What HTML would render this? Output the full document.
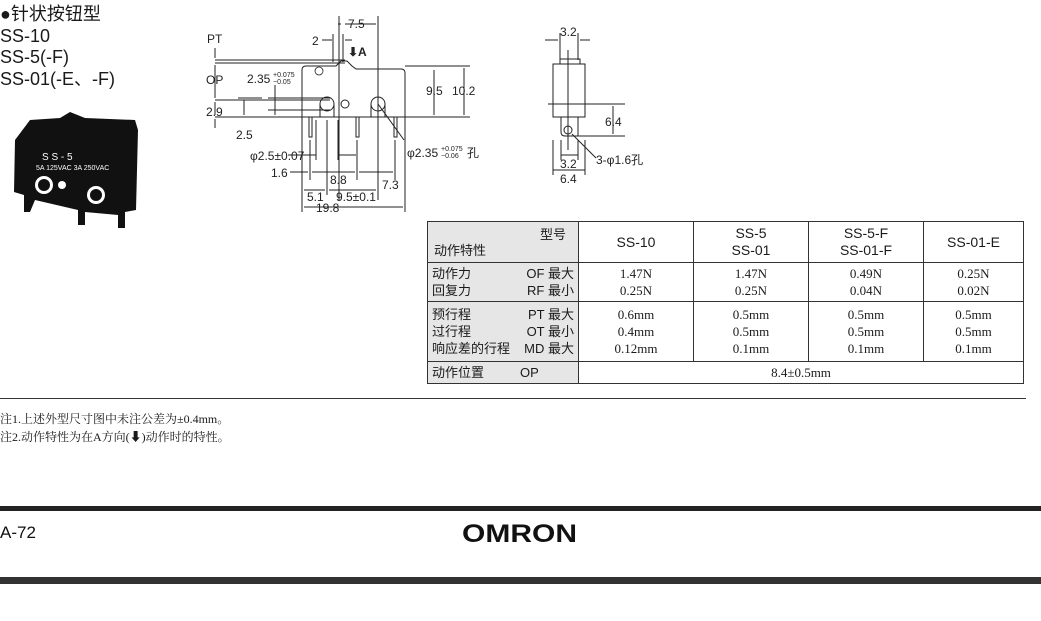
<!DOCTYPE html>
<html><head><meta charset="utf-8"><style>
body{margin:0;background:#fff;width:1041px;height:621px;overflow:hidden;position:relative;font-family:"Liberation Sans","Noto Sans CJK SC",sans-serif;color:#1a1a1a}
.a{position:absolute;white-space:nowrap}
table{position:absolute;left:427px;top:221px;border-collapse:collapse;font-size:13px}
td{border:1px solid #333;padding:0;text-align:center;font-family:"Liberation Serif","Noto Serif CJK SC",serif;line-height:17px}
td.h{font-family:"Liberation Sans","Noto Sans CJK SC",sans-serif;font-size:14px}
td.f{background:#e6e6e6;text-align:left;font-family:"Liberation Sans","Noto Sans CJK SC",sans-serif;padding:0 4px;position:relative}
</style></head><body>
<div class="a" style="left:0;top:4px;font-size:18px;line-height:21.5px">●针状按钮型<br>SS-10<br>SS-5(-F)<br>SS-01(-E、-F)</div>
<svg class="a" style="left:0;top:0" width="1041" height="621" font-family="Liberation Sans,sans-serif" font-size="12" fill="#222">
<g stroke="#222" stroke-width="1" fill="none">
<path d="M302,117 L302,70 Q302,66 306,66 L336,66 L341,61 L347,61 L352,66 L356,69 L401,69 Q405,69 405,73 L405,117 Z"/>
<circle cx="327" cy="104" r="7"/><circle cx="345" cy="104" r="4"/><circle cx="378" cy="104" r="7"/>
<path d="M320,104 V117 M334,104 V117 M371,104 V117 M385,104 V117"/>
<rect x="309" y="117" width="3" height="20"/><rect x="356" y="117" width="3" height="20"/><rect x="394" y="117" width="3" height="20"/>
<path d="M339,16 V200 M378,16 V200 M302,117 V212 M405,117 V212 M333,34 V62 M343,34 V62"/>
<path d="M215,60 H345 M215,63 H345 M215,100 H330 M215,117 H302 M268,98 H330 M268,110 H330 M238,98 H262 M238,117 H262"/>
<path d="M405,66 H470 M405,117 H470"/>
<path d="M434,70 V115 M464,68 V115 M215,48 V58 M215,65 V98 M215,102 V115 M215,119 V128 M244,100 V115 M275,85 V115"/>
<path d="M316,120 V160 M338,120 V160 M327,120 V195 M310,140 V180 M357,140 V180 M395,140 V180 M288,155 H316 M338,155 H356"/>
<path d="M290,172 H308 M312,172 H355 M359,172 H393 M304,190 H325 M329,190 H376 M304,207 H403 M345,24 H376 M341,24 H338 M322,40 H332 M345,40 H352"/>
<path d="M378,104 L404,140"/>
<rect x="553" y="64" width="32" height="53"/><rect x="560" y="59" width="20" height="5"/>
<path d="M561,117 V132 Q561,136 565,136 H578 V117"/><circle cx="568" cy="130" r="4"/>
<path d="M568,50 V150 M548,104 H625 M578,136 H625 M560,33 V60 M578,33 V60 M553,140 V175 M585,140 V175 M561,140 V160 M578,140 V160 M545,40 H558 M580,40 H590 M613,106 V134 M553,170 H585 M561,155 H578 M572,134 L596,158"/>
</g>
<g font-size="12">
<text x="207" y="43">PT</text><text x="206" y="84">OP</text><text x="206" y="116">2.9</text>
<text x="236" y="139">2.5</text><text x="247" y="83">2.35</text><text x="273" y="77" font-size="7">+0.075</text><text x="273" y="84" font-size="7">−0.05</text>
<text x="312" y="45">2</text><text x="348" y="28">7.5</text><text x="348" y="56" font-weight="bold">⬇A</text>
<text x="426" y="95">9.5</text><text x="452" y="95">10.2</text>
<text x="250" y="160">φ2.5±0.07</text><text x="407" y="157">φ2.35</text><text x="441" y="151" font-size="7">+0.075</text><text x="441" y="158" font-size="7">−0.06</text><text x="467" y="157">孔</text>
<text x="271" y="177">1.6</text><text x="330" y="184">8.8</text><text x="382" y="189">7.3</text>
<text x="307" y="201">5.1</text><text x="336" y="201">9.5±0.1</text><text x="316" y="212">19.8</text>
<text x="560" y="36">3.2</text><text x="605" y="126">6.4</text><text x="596" y="164">3-φ1.6孔</text><text x="560" y="168">3.2</text><text x="560" y="183">6.4</text>
</g>
<circle cx="319" cy="71" r="4" fill="none" stroke="#222" stroke-width=".8"/>
<path d="M15,140 L30,120 L60,118 L70,112 L85,118 L135,120 L138,130 L136,210 L125,212 L125,228 L118,228 L118,215 L85,212 L85,225 L78,225 L78,210 L35,200 L30,212 L24,212 L24,195 L14,192 Z" fill="#111"/>
<circle cx="44" cy="185" r="9" fill="#fff"/><circle cx="44" cy="185" r="6" fill="#111"/>
<circle cx="62" cy="185" r="4" fill="#fff"/>
<circle cx="96" cy="195" r="9" fill="#fff"/><circle cx="96" cy="195" r="6" fill="#111"/>
<text x="42" y="160" fill="#fff" font-size="10">S S - 5</text>
<text x="36" y="170" fill="#fff" font-size="7">5A 125VAC 3A 250VAC</text>
<rect x="0" y="398" width="1026" height="1" fill="#333"/>
<rect x="0" y="506" width="1041" height="5" fill="#222"/>
<rect x="0" y="577" width="1041" height="7" fill="#333"/>
<text x="0" y="538" font-size="17" fill="#111">A-72</text>
<text x="462" y="542" font-size="25" font-weight="bold" fill="#111" textLength="115" lengthAdjust="spacingAndGlyphs">OMRON</text>
</svg>
<div class="a" style="left:0;top:410px;font-size:12px;line-height:18px;font-family:'Liberation Serif','Noto Serif CJK SC',serif">注1.上述外型尺寸图中未注公差为±0.4mm。<br>注2.动作特性为在A方向(⬇)动作时的特性。</div>
<table>
<tr style="height:41px"><td class="f" style="width:142px"><span style="position:absolute;right:12px;top:4px">型号</span><span style="position:absolute;left:6px;bottom:3px">动作特性</span></td><td class="h" style="width:114px">SS-10</td><td class="h" style="width:114px">SS-5<br>SS-01</td><td class="h" style="width:114px">SS-5-F<br>SS-01-F</td><td class="h" style="width:99px">SS-01-E</td></tr>
<tr style="height:39px"><td class="f">动作力<span style="float:right">OF 最大</span><br>回复力<span style="float:right">RF 最小</span></td><td>1.47N<br>0.25N</td><td>1.47N<br>0.25N</td><td>0.49N<br>0.04N</td><td>0.25N<br>0.02N</td></tr>
<tr style="height:60px"><td class="f">预行程<span style="float:right">PT 最大</span><br>过行程<span style="float:right">OT 最小</span><br>响应差的行程<span style="float:right">MD 最大</span></td><td>0.6mm<br>0.4mm<br>0.12mm</td><td>0.5mm<br>0.5mm<br>0.1mm</td><td>0.5mm<br>0.5mm<br>0.1mm</td><td>0.5mm<br>0.5mm<br>0.1mm</td></tr>
<tr style="height:22px"><td class="f">动作位置<span style="position:absolute;left:92px">OP</span></td><td colspan="4">8.4±0.5mm</td></tr>
</table>
</body></html>
